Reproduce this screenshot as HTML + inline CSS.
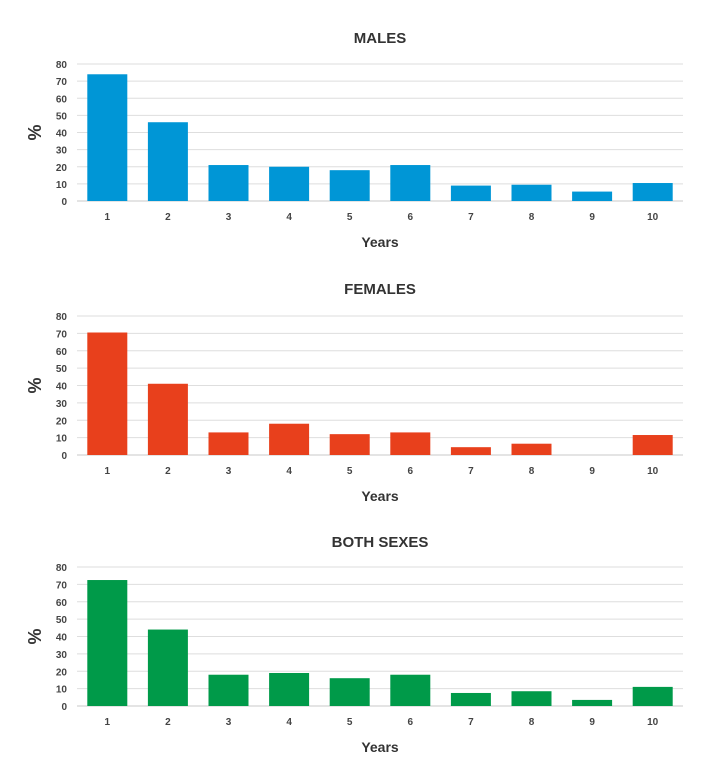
<!DOCTYPE html>
<html><head><meta charset="utf-8"><style>
body{margin:0;background:#fff;width:713px;height:764px;overflow:hidden;font-family:"Liberation Sans",sans-serif}
svg{display:block}
</style></head><body>
<svg id="c" width="713" height="764"></svg>
<script>
const categories=["1","2","3","4","5","6","7","8","9","10"];
const malesValues=[74,46,21,20,18,21,9,9.5,5.5,10.5];
const femalesValues=[70.5,41,13,18,12,13,4.5,6.5,0,11.5];
const bothValues=[72.5,44,18,19,16,18,7.5,8.5,3.5,11];
const yTicks=[0,10,20,30,40,50,60,70,80];
const panels=[
 {name:"males",title:"MALES",values:malesValues,color:"#0096d6",top:64,bottom:201,titleY:43},
 {name:"females",title:"FEMALES",values:femalesValues,color:"#e8401c",top:316,bottom:455,titleY:294},
 {name:"both-sexes",title:"BOTH SEXES",values:bothValues,color:"#009a49",top:567,bottom:706,titleY:547}
];
const NS="http://www.w3.org/2000/svg";
const svg=document.getElementById('c');
function mk(t,a,p){const e=document.createElementNS(NS,t);for(const k in a)e.setAttribute(k,a[k]);(p||svg).appendChild(e);return e;}
const x0=77,x1=683;
const band=(x1-x0)/categories.length;
const xPos=i=>x0+band*i+band/2;
panels.forEach(p=>{
 const g=mk('g',{});
 
 
 const y=v=>p.bottom-(v/80)*(p.bottom-p.top);
 const t=mk('text',{x:(x0+x1)/2,y:p.titleY,'text-anchor':'middle','font-size':15,'font-weight':'bold',fill:'#333'},g);
 t.textContent=p.title;
 
 
 yTicks.forEach(v=>{
  const l=mk('line',{x1:x0,x2:x1,y1:y(v),y2:y(v),stroke:v===0?'#c8c8c8':'#dedede','stroke-width':1},g);
  
  
  const tl=mk('text',{x:67,y:y(v)+4,'text-anchor':'end','font-size':10,'font-weight':'bold',fill:'#444'},g);
  tl.textContent=v;
  
  
 });
 const bw=40;
 p.values.forEach((v,i)=>{
  const r=mk('rect',{x:xPos(i)-bw/2,y:y(v),width:bw,height:p.bottom-y(v),fill:p.color},g);
  
  
  const xl=mk('text',{x:xPos(i),y:p.bottom+19,'text-anchor':'middle','font-size':10,'font-weight':'bold',fill:'#444'},g);
  xl.textContent=categories[i];
  
  
 });
 const xt=mk('text',{x:(x0+x1)/2,y:p.bottom+46,'text-anchor':'middle','font-size':14,'font-weight':'bold',fill:'#333'},g);
 xt.textContent="Years";
 
 
 const cy=(p.top+p.bottom)/2;
 const yt=mk('text',{x:36,y:cy,'text-anchor':'middle','font-size':18,'font-weight':'bold',fill:'#333',transform:`rotate(-90 36 ${cy})`,'dominant-baseline':'middle'},g);
 yt.textContent="%";
 
 
});
</script>
</body></html>
